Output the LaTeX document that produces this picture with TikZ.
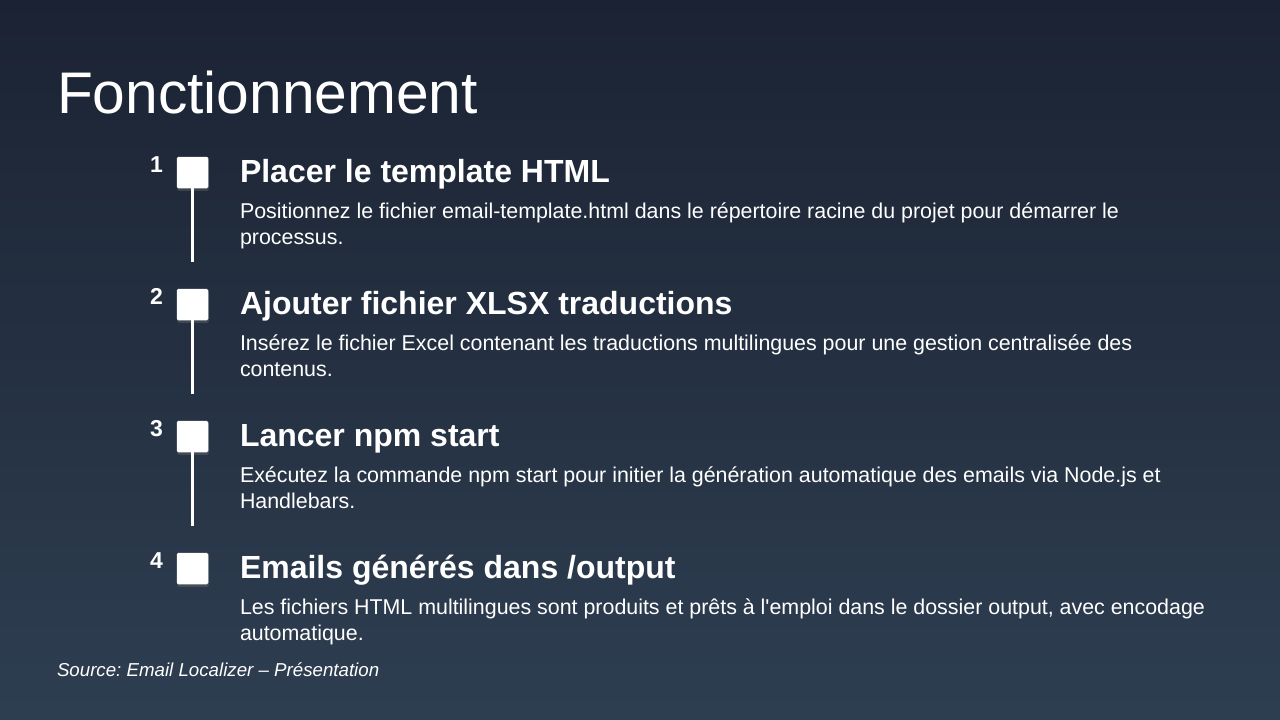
\documentclass[tikz,border=0pt]{standalone}
\usepackage{fontspec}
\setmainfont{Liberation Sans}
\newfontfamily\rawfont{Liberation Sans}
\usetikzlibrary{shadows}
\frenchspacing
\hyphenpenalty=10000
\definecolor{bgtop}{HTML}{1B2333}
\definecolor{bgbot}{HTML}{2E3E51}
\tikzset{every node/.style={inner sep=0pt,outer sep=0pt,text=white}}
\tikzset{sq/.style={fill=white,minimum size=31.5pt,rounded corners=1.5pt,drop shadow={opacity=0.3,shadow xshift=0.5pt,shadow yshift=-2.5pt}}}
\tikzset{num/.style={font=\fontsize{23}{27}\selectfont\bfseries,anchor=base east}}
\tikzset{h/.style={font=\fontsize{32}{38}\selectfont\bfseries,anchor=base west}}
\tikzset{d/.style={font=\fontsize{21.4}{26}\selectfont,anchor=base west,text width=965pt,align=flush left}}
\tikzset{c/.style={white,line width=3pt,shorten >=27pt}}

\begin{document}
\begin{tikzpicture}[x=1pt,y=-1pt]
      \shade[top color=bgtop,bottom color=bgbot] (0,0) rectangle (1280,720);
      \node[anchor=base west,font=\fontsize{58.7}{70}\selectfont] (title) at (57,113) {Fonctionnement};
      \node[sq] (S1) at (192.5,172.5) {};
      \node[sq] (S2) at (192.5,304.5) {};
      \node[sq] (S3) at (192.5,436.5) {};
      \node[sq] (S4) at (192.5,568.5) {};
      \node[num] (N1) at (163,172) {1};
      \node[num] (N2) at (163,304) {2};
      \node[num] (N3) at (163,436) {3};
      \node[num] (N4) at (163,568) {4};
      \draw[c] (S1) -- (S2);
      \draw[c] (S2) -- (S3);
      \draw[c] (S3) -- (S4);
      \node[h] (H1) at (240,182.5) {Placer le template HTML};
      \node[h] (H2) at (240,314.5) {Ajouter fichier XLSX traductions};
      \node[h] (H3) at (240,446.5) {Lancer npm start};
      \node[h] (H4) at (240,578.5) {Emails générés dans /output};
      \node[d] (D1) at (240,218.5) {Positionnez le fichier email-template.html dans le répertoire racine du projet pour démarrer le processus.};
      \node[d] (D2) at (240,350.5) {Insérez le fichier Excel contenant les traductions multilingues pour une gestion centralisée des contenus.};
      \node[d] (D3) at (240,482.5) {Exécutez la commande npm start pour initier la génération automatique des emails via Node.js et Handlebars.};
      \node[d] (D4) at (240,614.5) {Les fichiers HTML multilingues sont produits et prêts à l{\rawfont'}emploi dans le dossier output, avec encodage automatique.};
      \node[anchor=base west,font=\fontsize{18.7}{22}\selectfont\itshape] (src) at (57,676) {Source: Email Localizer – Présentation};
\end{tikzpicture}
\end{document}
